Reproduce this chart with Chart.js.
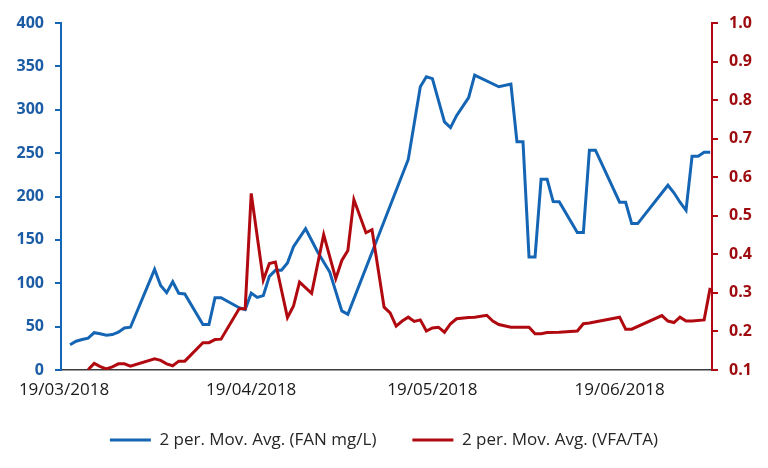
<!DOCTYPE html>
<html><head><meta charset="utf-8">
<script src="https://cdn.jsdelivr.net/npm/chart.js@4.4.1/dist/chart.umd.min.js"></script>
<style>html,body{margin:0;padding:0;background:#fff;}#wrap{width:768px;height:468px;}</style>
</head><body><div id="wrap"><canvas id="c" width="768" height="468"></canvas></div>
<script>
// Day offsets from 19/03/2018
const tickDays = [0, 31, 61, 92];
const tickLabels = ['19/03/2018', '19/04/2018', '19/05/2018', '19/06/2018'];
const leftTicksMin = 0, leftTicksMax = 400, leftStep = 50;
const rightTicksMin = 0.1, rightTicksMax = 1.0, rightStep = 0.1;
const seriesNames = ['2 per. Mov. Avg. (FAN mg/L)', '2 per. Mov. Avg. (VFA/TA)'];

const fanDays = [1,2,3,4,5,6,7,8,9,10,11,15,16,17,18,19,20,23,24,25,26,29,30,31,32,33,34,35,36,37,38,40,42,44,46,47,57,59,60,61,63,64,65,67,68,72,74,75,76,77,78,79,80,81,82,85,86,87,88,92,93,94,95,100,101,102,103,104,105,106,107];
const fanValues = [29.1,33.2,35.2,36.7,43.0,41.8,40.2,40.8,43.5,48.5,49.3,116,97.5,89.1,101.8,88.5,87.7,52.5,52.5,83.3,83.3,71.8,69.5,88.7,83.7,85.7,107.9,114.9,114.9,123.3,142.2,162.8,136,112.9,68.1,64.1,242.7,326.5,338,335.9,286,279.4,293.2,314,340,326.5,329.6,263.2,263.2,130.4,130.4,219.9,219.9,194.2,194,158.4,158.4,253.4,253.4,193.4,193.4,168.8,168.8,213,204.3,193.4,184.1,246.5,246.5,251.1,251.1];

const vfaDays = [4,5,6,7,8,9,10,11,15,16,17,18,19,20,23,24,25,26,29,30,31,33,34,35,37,38,39,41,43,45,46,47,48,50,51,53,54,55,56,57,58,59,60,61,62,63,64,65,67,68,70,71,72,74,77,78,79,80,82,85,86,87,92,93,94,99,100,101,102,103,104,106,107];
const vfaValues = [0.101,0.117,0.109,0.103,0.108,0.116,0.116,0.110,0.129,0.125,0.116,0.111,0.123,0.123,0.171,0.171,0.179,0.180,0.259,0.259,0.558,0.333,0.376,0.380,0.236,0.266,0.328,0.299,0.451,0.337,0.384,0.410,0.542,0.456,0.464,0.263,0.248,0.214,0.227,0.237,0.226,0.230,0.201,0.209,0.211,0.198,0.220,0.233,0.236,0.237,0.242,0.227,0.218,0.211,0.211,0.194,0.194,0.197,0.198,0.201,0.220,0.222,0.237,0.206,0.206,0.241,0.227,0.223,0.237,0.227,0.227,0.230,0.313];

const BLUE = '#1565B5', BLUE_TXT = '#1B5CA5';
const RED = '#B00A10', RED_TXT = '#9E0B0E';

const fanPts = fanDays.map((d, i) => ({x: d, y: fanValues[i]}));
const vfaPts = vfaDays.map((d, i) => ({x: d, y: vfaValues[i]}));

new Chart(document.getElementById('c'), {
  type: 'line',
  data: {
    datasets: [
      {label: seriesNames[0], data: fanPts, yAxisID: 'y', borderColor: BLUE, backgroundColor: BLUE, borderWidth: 3, pointRadius: 0, tension: 0, order: 2},
      {label: seriesNames[1], data: vfaPts, yAxisID: 'y1', borderColor: RED, backgroundColor: RED, borderWidth: 3, pointRadius: 0, tension: 0, order: 1}
    ]
  },
  options: {
    responsive: false,
    animation: false,
    devicePixelRatio: 1,
    layout: {padding: {top: 23, bottom: 9.5, left: 0, right: 0}},
    plugins: {
      tooltip: {enabled: false},
      legend: {
        position: 'bottom',
        labels: {
          boxWidth: 41, boxHeight: 3, padding: 36,
          color: '#262626',
          font: {family: 'Open Sans', size: 17},
          sort: (a, b) => a.datasetIndex - b.datasetIndex,
          generateLabels: (chart) => {
            const items = Chart.defaults.plugins.legend.labels.generateLabels(chart);
            items.forEach(it => { it.lineWidth = 0; });
            return items;
          }
        }
      }
    },
    scales: {
      x: {
        type: 'linear', min: -0.5, max: 107.3,
        afterBuildTicks: s => { s.ticks = tickDays.map(v => ({value: v})); },
        afterFit: s => { s.height = 25.5; },
        ticks: {autoSkip: false, maxRotation: 0, padding: 10, color: '#1a1a1a',
          font: {family: 'Open Sans', size: 17},
          callback: (v, i) => tickLabels[i]},
        grid: {display: false, drawTicks: false},
        border: {display: true, color: '#3c3c3c', width: 1.5}
      },
      y: {
        position: 'left', min: leftTicksMin, max: leftTicksMax,
        afterFit: s => { s.width = 61; },
        ticks: {stepSize: leftStep, padding: 11, color: BLUE_TXT,
          font: {family: 'Open Sans', size: 16, weight: 'bold'}},
        grid: {display: true, drawOnChartArea: false, drawTicks: true, tickLength: 6, color: BLUE, lineWidth: 2},
        border: {display: true, color: BLUE, width: 2}
      },
      y1: {
        position: 'right', min: rightTicksMin, max: rightTicksMax,
        afterFit: s => { s.width = 56; },
        ticks: {stepSize: rightStep, padding: 11, color: RED_TXT,
          font: {family: 'Open Sans', size: 16, weight: 'bold'},
          callback: v => Number(v).toFixed(1)},
        grid: {display: true, drawOnChartArea: false, drawTicks: true, tickLength: 6, color: RED, lineWidth: 2},
        border: {display: true, color: RED, width: 2}
      }
    }
  }
});
</script>
</body></html>
